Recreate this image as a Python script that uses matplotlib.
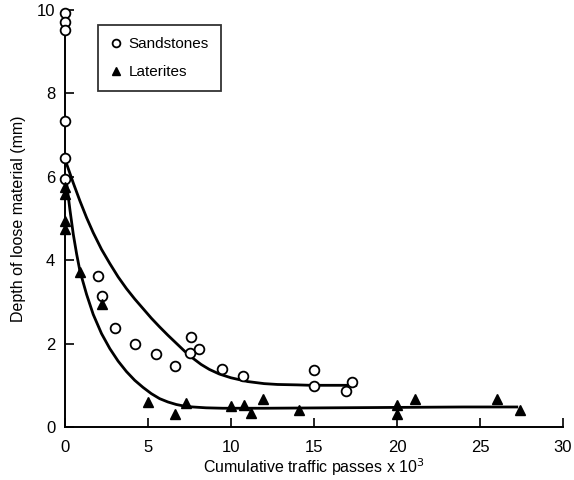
import matplotlib
matplotlib.use("Agg")
import matplotlib.pyplot as plt

# Sandstones (open circles)
sand_x = [0, 0, 0, 0, 0, 0, 2.0, 2.2, 3.0, 4.2, 5.5, 6.6, 7.6, 7.5, 8.1, 9.45, 10.75, 15.0, 15.0, 16.95, 17.3]
sand_y = [9.93, 9.72, 9.52, 7.35, 6.45, 5.95, 3.62, 3.14, 2.37, 1.98, 1.74, 1.46, 2.16, 1.78, 1.87, 1.39, 1.22, 1.37, 0.98, 0.86, 1.08]

# Laterites (filled triangles)
lat_x = [0, 0, 0, 0, 0.92, 2.22, 4.97, 6.6, 7.27, 10.0, 10.8, 11.2, 11.9, 14.1, 20.0, 20.0, 21.1, 26.0, 27.4]
lat_y = [5.76, 5.58, 4.95, 4.76, 3.72, 2.95, 0.60, 0.31, 0.58, 0.50, 0.53, 0.33, 0.66, 0.40, 0.52, 0.30, 0.66, 0.66, 0.40]

# Fitted curves
sand_cx = [0, 0.5, 0.9, 1.3, 1.7, 2.2, 2.7, 3.2, 3.7, 4.2, 4.7, 5.2, 5.7, 6.2, 6.7, 7.2, 7.7, 8.2, 8.7, 9.3, 10.0, 11.0, 12.0, 12.8, 14.0, 14.8, 16.0, 17.6]
sand_cy = [6.42, 5.85, 5.42, 5.02, 4.66, 4.26, 3.92, 3.60, 3.32, 3.07, 2.84, 2.61, 2.40, 2.20, 2.01, 1.82, 1.65, 1.50, 1.38, 1.27, 1.18, 1.09, 1.04, 1.02, 1.01, 1.0, 1.0, 1.0]
lat_cx = [0.05, 0.3, 0.5, 0.7, 0.9, 1.3, 1.7, 2.2, 2.7, 3.2, 3.7, 4.2, 4.7, 5.2, 5.7, 6.2, 6.7, 7.2, 7.7, 8.5, 9.5, 12.0, 16.0, 20.0, 24.0, 27.3]
lat_cy = [6.0, 5.2, 4.62, 4.15, 3.74, 3.18, 2.70, 2.24, 1.88, 1.58, 1.33, 1.12, 0.95, 0.80, 0.68, 0.60, 0.54, 0.50, 0.48, 0.46, 0.45, 0.45, 0.46, 0.47, 0.48, 0.48]

xticks = [0, 5, 10, 15, 20, 25, 30]
yticks = [0, 2, 4, 6, 8, 10]

plt.rcParams['font.family'] = ['Liberation Sans', 'DejaVu Sans']

fig = plt.figure(figsize=(5.74, 4.8), dpi=100)
ax = fig.add_axes([65/574, 1-427/480, (563-65)/574, (427-10)/480])

ax.plot(sand_cx, sand_cy, color='black', lw=2.0, solid_capstyle='butt', zorder=2)
ax.plot(lat_cx, lat_cy, color='black', lw=2.0, solid_capstyle='butt', zorder=2)

ax.plot(sand_x, sand_y, linestyle='none', marker='o', markersize=7, markerfacecolor='white',
        markeredgecolor='black', markeredgewidth=1.3, label='Sandstones', clip_on=False, zorder=3)
ax.plot(lat_x, lat_y, linestyle='none', marker='^', markersize=6.5, markerfacecolor='black',
        markeredgecolor='black', label='Laterites', clip_on=False, zorder=3)

ax.set_xlim(0, 30)
ax.set_ylim(0, 10)
ax.set_xticks(xticks)
ax.set_yticks(yticks)
for s in ['top', 'right']:
    ax.spines[s].set_visible(False)
for s in ['left', 'bottom']:
    ax.spines[s].set_linewidth(1.4)
ax.tick_params(axis='both', direction='in', length=6.5, width=1.2, labelsize=12)
ax.tick_params(axis='x', pad=9)
ax.tick_params(axis='y', pad=7)

ax.set_xlabel('Cumulative traffic passes x 10$^3$', fontsize=11.5, labelpad=1)
ax.set_ylabel('Depth of loose material (mm)', fontsize=11.5, labelpad=8)

leg = ax.legend(loc='upper left', bbox_to_anchor=(98/574, 1-25/480), bbox_transform=fig.transFigure,
                borderaxespad=0, frameon=True, fancybox=False, edgecolor='black', fontsize=11,
                handlelength=0.7, handletextpad=0.5, labelspacing=0.9, borderpad=0.8, markerscale=0.8)
leg.get_frame().set_linewidth(1.3)

fig.savefig('out.png', dpi=100)
